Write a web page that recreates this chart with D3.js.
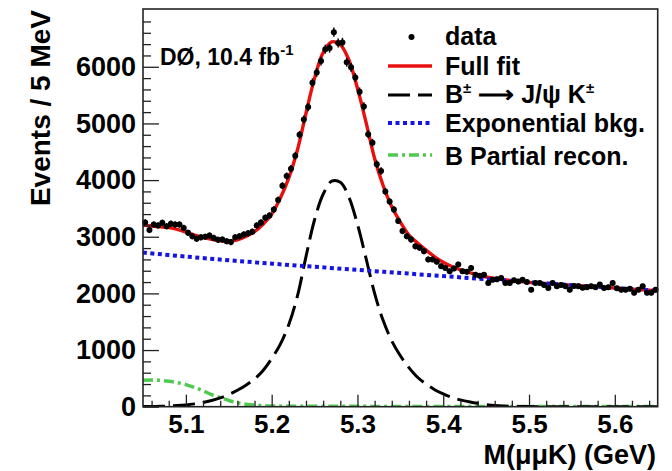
<!DOCTYPE html>
<html>
<head>
<meta charset="utf-8">
<script src="https://cdn.jsdelivr.net/npm/d3@7/dist/d3.min.js"></script>
<style>
    body { margin: 0; background: #fff; }
    svg { display: block; font-family: 'Liberation Sans', Arial, Helvetica, sans-serif; font-weight: bold; }
</style>
</head>
<body>
<script>
// histogram binning (5 MeV bins from 5.05 to 5.65 GeV)
const binStart = 5.05;
const binWidth = 0.005;

// events per bin
const eventCounts = [
    3250, 3120, 3215, 3200, 3245, 3185, 3230, 3215, 3215, 3155,
    3070, 3010, 2965, 2990, 3000, 3020, 2980, 2945, 2950, 2920,
    2905, 2990, 3010, 3040, 3060, 3090, 3200, 3250, 3335, 3375,
    3480, 3650, 3900, 4070, 4200, 4430, 4800, 5070, 5290, 5720,
    5900, 6100, 6310, 6330, 6610, 6420, 6430, 6080, 5990, 5810,
    5560, 5300, 4810, 4660, 4280, 4160, 3800, 3620, 3480, 3280,
    3100, 3010, 2950, 2830, 2805, 2745, 2600, 2600, 2560, 2480,
    2450, 2390, 2440, 2510, 2390, 2380, 2450, 2330, 2310, 2330,
    2185, 2240, 2250, 2270, 2185, 2185, 2230, 2210, 2240, 2200,
    2065, 2185, 2185, 2150, 2095, 2185, 2125, 2150, 2125, 2065,
    2130, 2125, 2100, 2110, 2125, 2110, 2155, 2095, 2110, 2185,
    2090, 2065, 2065, 2080, 2010, 2065, 2125, 2010, 2010, 2065
];

// full fit
const fitMass = [5.05, 5.06, 5.07, 5.08, 5.09, 5.10, 5.11, 5.12, 5.13, 5.14,
    5.15, 5.16, 5.17, 5.18, 5.19, 5.20, 5.21, 5.22, 5.23, 5.24,
    5.25, 5.26, 5.27, 5.28, 5.29, 5.30, 5.31, 5.32, 5.33, 5.34,
    5.35, 5.36, 5.37, 5.38, 5.39, 5.40, 5.41, 5.42, 5.43, 5.44,
    5.45, 5.46, 5.47, 5.48, 5.49, 5.50, 5.52, 5.54, 5.56, 5.58,
    5.60, 5.62, 5.64, 5.65];
const fitValues = [3200, 3190, 3175, 3160, 3130, 3080, 3030, 2990, 2955, 2930,
    2920, 2945, 3005, 3090, 3220, 3400, 3680, 4040, 4530, 5180,
    5800, 6250, 6440, 6390, 6120, 5620, 5020, 4380, 3900, 3530,
    3260, 3030, 2890, 2765, 2645, 2550, 2475, 2415, 2370, 2330,
    2290, 2265, 2245, 2225, 2210, 2195, 2175, 2155, 2135, 2115,
    2095, 2075, 2055, 2045];

// B+ -> J/psi K+ signal
const sigMass = [5.05, 5.06, 5.07, 5.08, 5.09, 5.10, 5.11, 5.12, 5.13, 5.14,
    5.15, 5.16, 5.17, 5.18, 5.19, 5.20, 5.21, 5.22, 5.23, 5.24,
    5.25, 5.26, 5.27, 5.28, 5.29, 5.30, 5.31, 5.32, 5.33, 5.34,
    5.35, 5.36, 5.37, 5.38, 5.39, 5.40, 5.41, 5.42, 5.43, 5.44,
    5.45, 5.46, 5.47, 5.48, 5.49, 5.50, 5.55, 5.60, 5.65];
const sigValues = [2, 4, 7, 12, 20, 32, 50, 75, 110, 155,
    215, 290, 380, 490, 640, 850, 1100, 1450, 1950, 2650,
    3300, 3750, 3980, 3960, 3700, 3220, 2620, 2000, 1520, 1160,
    900, 690, 520, 400, 300, 225, 165, 120, 88, 60,
    38, 22, 13, 7, 4, 2, 0, 0, 0];

// exponential background
const bkgMass = [5.05, 5.10, 5.15, 5.20, 5.25, 5.30, 5.35, 5.40, 5.45, 5.50, 5.55, 5.60, 5.65];
const bkgValues = [2720, 2650, 2585, 2525, 2470, 2415, 2360, 2305, 2250, 2195, 2145, 2095, 2045];

// partially reconstructed B
const partMass = [5.05, 5.06, 5.07, 5.08, 5.09, 5.10, 5.11, 5.12, 5.13, 5.14,
    5.15, 5.16, 5.17, 5.18, 5.19, 5.20, 5.25, 5.30, 5.40, 5.50, 5.65];
const partValues = [465, 470, 465, 450, 425, 390, 340, 280, 215, 160,
    110, 72, 45, 28, 18, 12, 8, 6, 5, 4, 3];

const xMajor = [5.1, 5.2, 5.3, 5.4, 5.5, 5.6];
const yMajor = [0, 1000, 2000, 3000, 4000, 5000, 6000];

class MassPlot {
    #width
    #height
    #margins
    #svg
    #x
    #y

    constructor(w, h) {
        this.#width = w;
        this.#height = h;
        this.#margins = { top: 9, left: 143, right: 14.3, bottom: 64.3 };
    }

    get innerWidth() {
        return this.#width - this.#margins.left - this.#margins.right;
    }

    get innerHeight() {
        return this.#height - this.#margins.top - this.#margins.bottom;
    }

    render() {
        this.#svg = d3.select('body').append('svg')
            .attr('width', this.#width)
            .attr('height', this.#height);

        this.#x = d3.scaleLinear().domain([5.05, 5.65]).range([0, this.innerWidth]);
        this.#y = d3.scaleLinear().domain([0, 7020]).range([this.innerHeight, 0]);

        const g = this.#svg.append('g')
            .attr('transform', 'translate(' + this.#margins.left + ',' + this.#margins.top + ')');

        g.append('clipPath').attr('id', 'plot-clip')
            .append('rect').attr('width', this.innerWidth).attr('height', this.innerHeight);

        this.renderCurves(g);
        this.renderData(g);
        this.renderAxes(g);
        this.renderLegend();
        this.renderTitles();
    }

    renderCurves(g) {
        const curves = g.append('g').attr('clip-path', 'url(#plot-clip)');
        const line = d3.line()
            .x(d => this.#x(d[0]))
            .y(d => this.#y(d[1]))
            .curve(d3.curveCatmullRom.alpha(0.5));

        curves.append('path')
            .datum(d3.zip(partMass, partValues))
            .attr('d', line)
            .attr('fill', 'none').attr('stroke', '#4fc94f')
            .attr('stroke-width', 3.5).attr('stroke-dasharray', '10,4,3,4');

        curves.append('path')
            .datum(d3.zip(sigMass, sigValues))
            .attr('d', line)
            .attr('fill', 'none').attr('stroke', '#000')
            .attr('stroke-width', 3).attr('stroke-dasharray', '22,8');

        curves.append('path')
            .datum(d3.zip(fitMass, fitValues))
            .attr('d', line)
            .attr('fill', 'none').attr('stroke', '#e8110f')
            .attr('stroke-width', 3.4);

        curves.append('path')
            .datum(d3.zip(bkgMass, bkgValues))
            .attr('d', line)
            .attr('fill', 'none').attr('stroke', '#1414e6')
            .attr('stroke-width', 4).attr('stroke-dasharray', '4,3.5');
    }

    renderData(g) {
        const pts = eventCounts.map((n, i) => ({ m: binStart + binWidth * (i + 0.5), n: n }));
        const dataG = g.append('g');
        dataG.selectAll('line.err')
            .data(pts)
            .join('line')
            .attr('class', 'err')
            .attr('x1', d => this.#x(d.m)).attr('x2', d => this.#x(d.m))
            .attr('y1', d => this.#y(d.n - Math.sqrt(d.n)))
            .attr('y2', d => this.#y(d.n + Math.sqrt(d.n)))
            .attr('stroke', '#000').attr('stroke-width', 1.5);
        dataG.selectAll('circle')
            .data(pts)
            .join('circle')
            .attr('cx', d => this.#x(d.m))
            .attr('cy', d => this.#y(d.n))
            .attr('r', 3)
            .attr('fill', '#000');
    }

    renderAxes(g) {
        const h = this.innerHeight;
        const w = this.innerWidth;
        const yMinor = d3.range(200, 7000, 200).filter(v => v % 1000 !== 0);
        const xMinor = d3.range(5.06, 5.65, 0.02).filter(v => Math.abs(v * 10 - Math.round(v * 10)) > 0.01);

        const yAxis = g.append('g')
            .call(d3.axisLeft(this.#y).tickValues(yMajor).tickSize(-16).tickPadding(7).tickFormat(d3.format('d')));
        g.append('g')
            .call(d3.axisLeft(this.#y).tickValues(yMinor).tickSize(-8).tickFormat(''));

        const xAxis = g.append('g')
            .attr('transform', 'translate(0,' + h + ')')
            .call(d3.axisBottom(this.#x).tickValues(xMajor).tickSize(-12).tickPadding(8).tickFormat(d3.format('.1f')));
        g.append('g')
            .attr('transform', 'translate(0,' + h + ')')
            .call(d3.axisBottom(this.#x).tickValues(xMinor).tickSize(-6).tickFormat(''));

        g.selectAll('.domain').remove();
        g.selectAll('.tick line').attr('stroke', '#222').attr('stroke-width', 1.3);
        yAxis.selectAll('text').attr('font-size', 27).attr('fill', '#000')
            .attr('font-family', "'Liberation Sans', Arial, sans-serif").attr('font-weight', 'bold');
        xAxis.selectAll('text').attr('font-size', 26).attr('fill', '#000')
            .attr('font-family', "'Liberation Sans', Arial, sans-serif").attr('font-weight', 'bold');

        g.append('rect')
            .attr('width', w).attr('height', h)
            .attr('fill', 'none').attr('stroke', '#222').attr('stroke-width', 1.6);
    }

    renderLegend() {
        const lg = this.#svg.append('g').attr('font-size', 25);
        const x0 = 388, x1 = 432, tx = 445;

        lg.append('circle').attr('cx', 411.5).attr('cy', 37).attr('r', 3).attr('fill', '#000');
        lg.append('text').attr('x', tx).attr('y', 45).text('data');

        lg.append('line').attr('x1', x0).attr('x2', x1).attr('y1', 66).attr('y2', 66)
            .attr('stroke', '#e8110f').attr('stroke-width', 3.4);
        lg.append('text').attr('x', tx).attr('y', 75).text('Full fit');

        lg.append('line').attr('x1', x0).attr('x2', x1).attr('y1', 95).attr('y2', 95)
            .attr('stroke', '#000').attr('stroke-width', 3).attr('stroke-dasharray', '22,8');
        const sig = lg.append('text').attr('x', tx).attr('y', 103);
        sig.append('tspan').text('B');
        sig.append('tspan').attr('font-size', 15).attr('dy', -10).text('\u00b1');
        sig.append('tspan').attr('dy', 10).text(' \u27f6 J/\u03c8 K');
        sig.append('tspan').attr('font-size', 15).attr('dy', -10).text('\u00b1');

        lg.append('line').attr('x1', x0).attr('x2', x1).attr('y1', 123).attr('y2', 123)
            .attr('stroke', '#1414e6').attr('stroke-width', 4).attr('stroke-dasharray', '4,3.5');
        lg.append('text').attr('x', tx).attr('y', 132).text('Exponential bkg.');

        lg.append('line').attr('x1', x0).attr('x2', x1).attr('y1', 155).attr('y2', 155)
            .attr('stroke', '#4fc94f').attr('stroke-width', 3.5).attr('stroke-dasharray', '10,4,3,4');
        lg.append('text').attr('x', tx).attr('y', 165).text('B Partial recon.');
    }

    renderTitles() {
        const lumi = this.#svg.append('text')
            .attr('x', 160).attr('y', 65).attr('font-size', 23);
        lumi.append('tspan').text('D\u00d8, 10.4 fb');
        lumi.append('tspan').attr('font-size', 15).attr('dy', -10).text('-1');

        this.#svg.append('text')
            .attr('transform', 'translate(50,10) rotate(-90)')
            .attr('text-anchor', 'end')
            .attr('font-size', 28)
            .text('Events / 5 MeV');

        this.#svg.append('text')
            .attr('x', 656).attr('y', 464)
            .attr('text-anchor', 'end')
            .attr('font-size', 27)
            .text('M(\u03bc\u03bcK) (GeV)');
    }
}

const plot = new MassPlot(672, 471);
plot.render();
</script>
</body>
</html>
